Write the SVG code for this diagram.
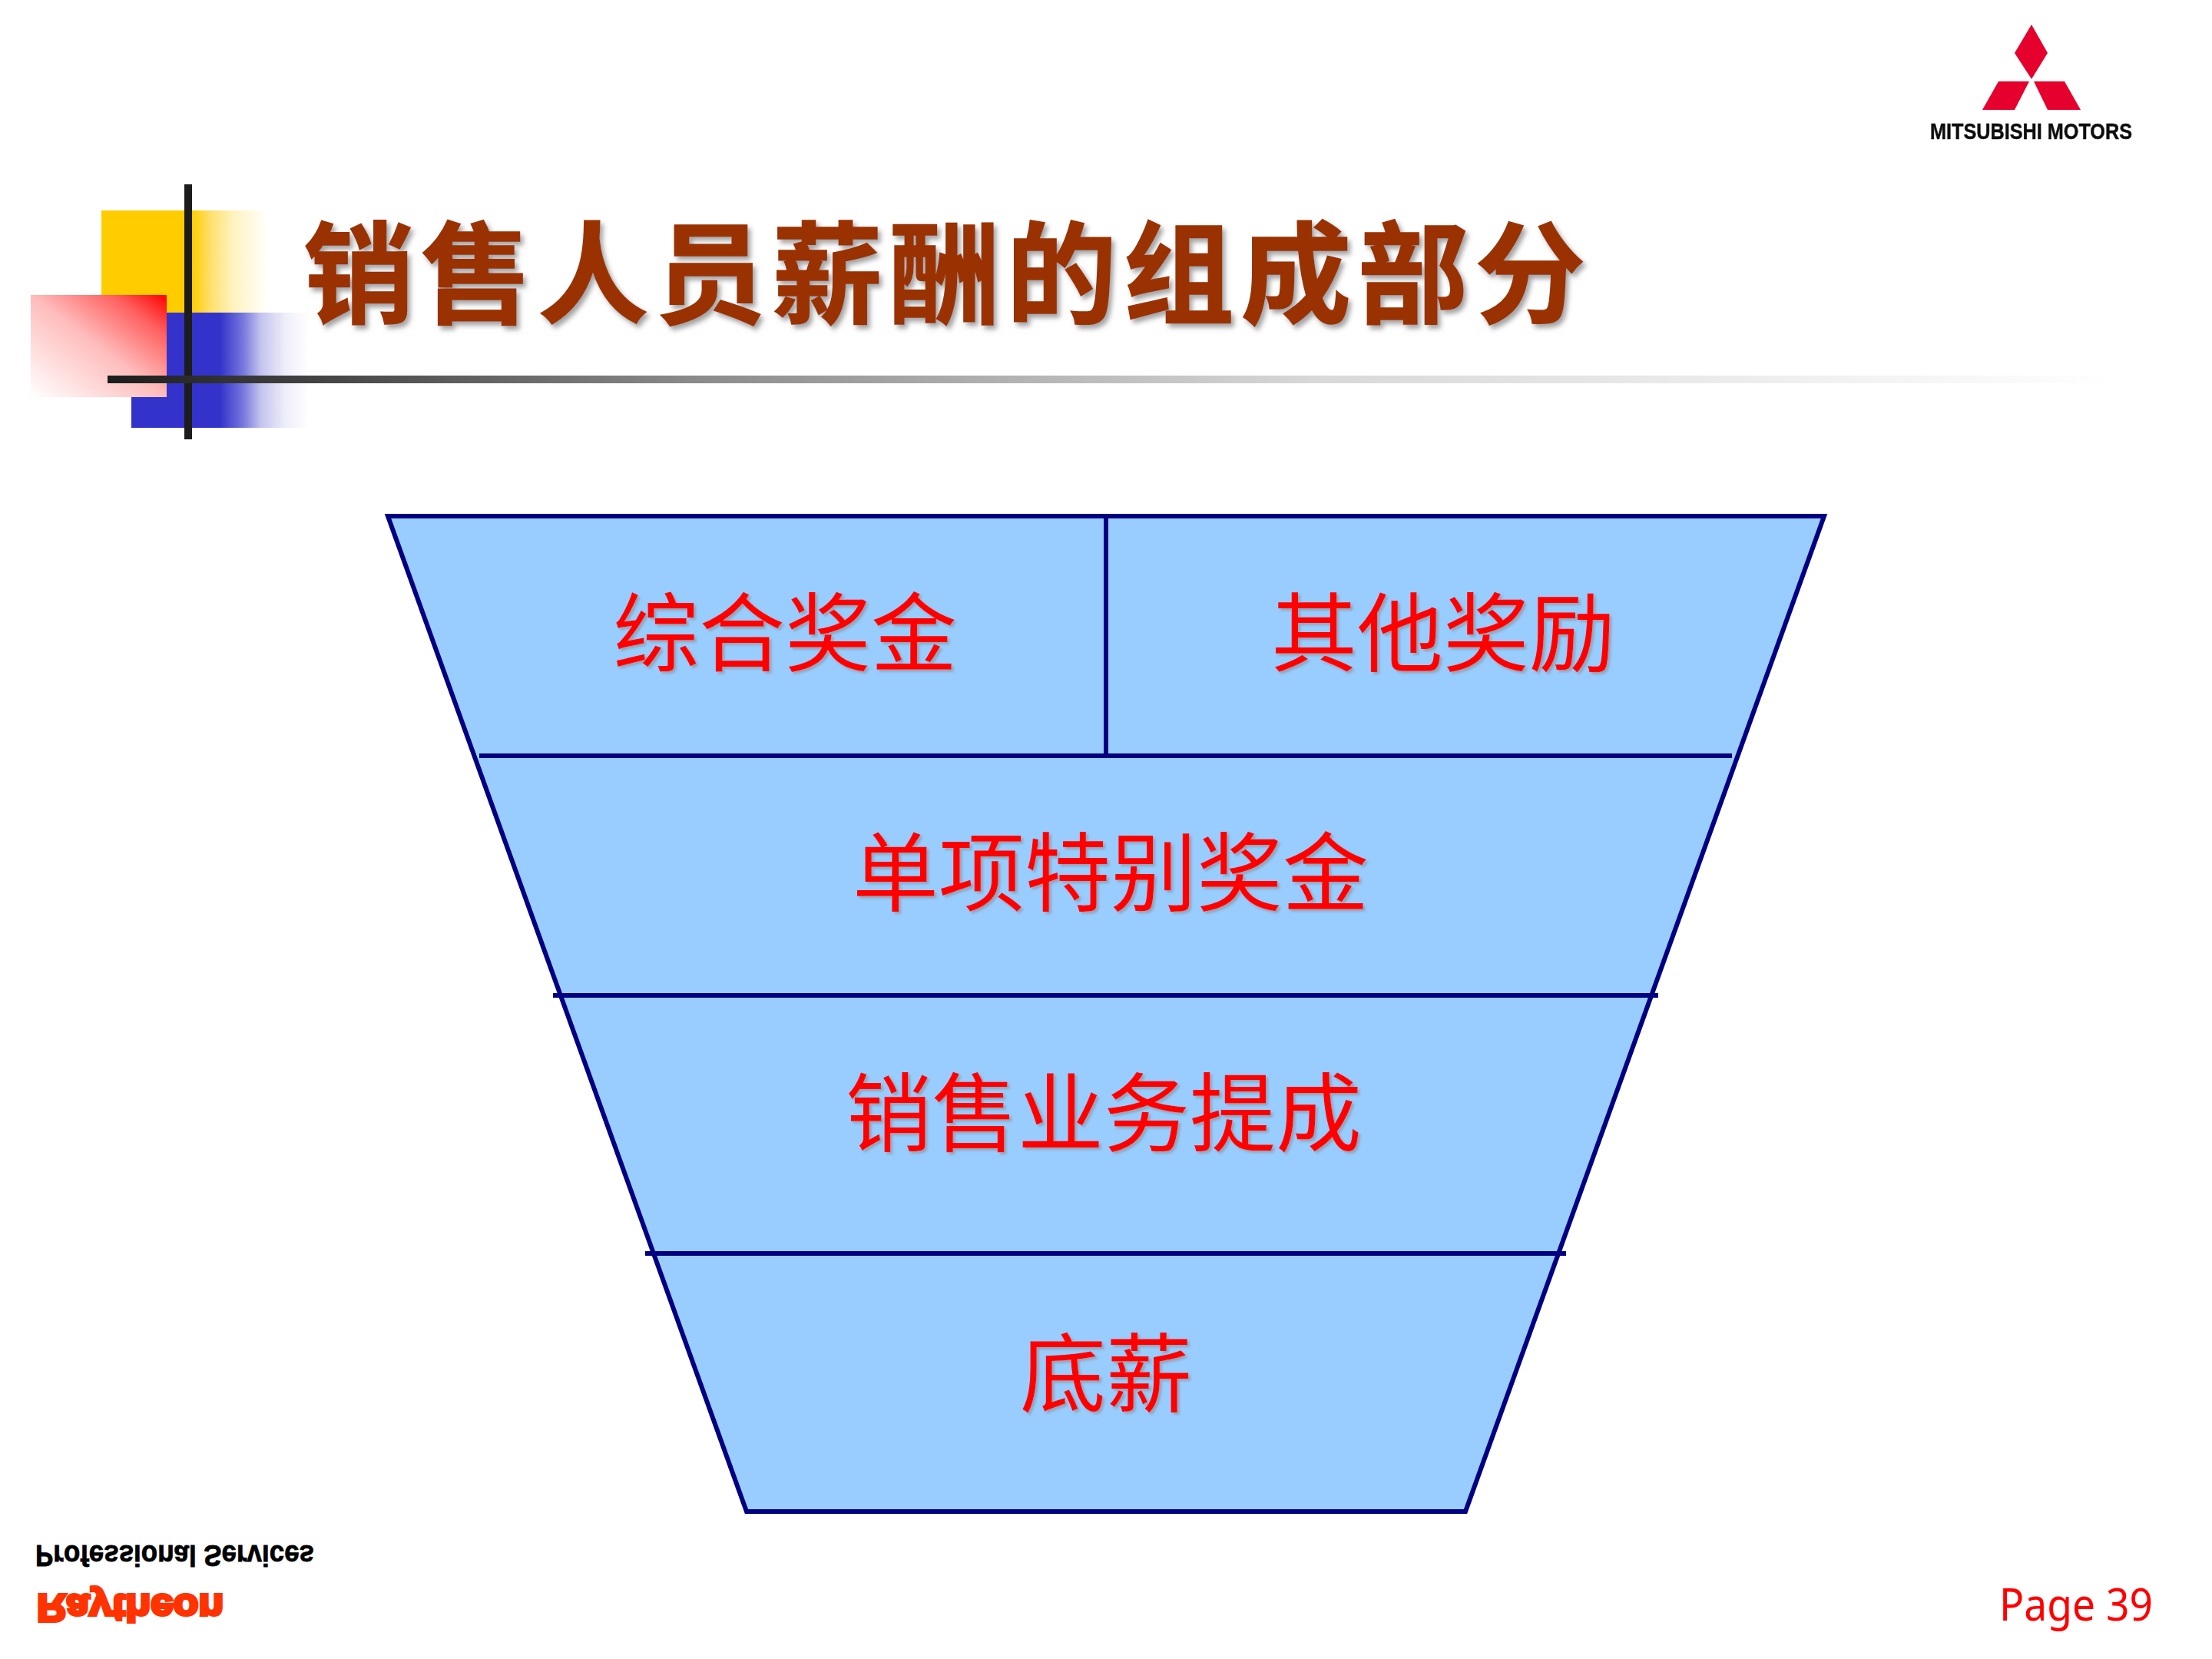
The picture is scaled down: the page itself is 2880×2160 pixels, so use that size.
<svg xmlns="http://www.w3.org/2000/svg" width="2880" height="2160" viewBox="0 0 2880 2160">
<style>
.cjk{font-family:"Noto Sans CJK SC","Noto Sans",sans-serif;text-anchor:middle}
.lab{font-size:112px;fill:#ff0000;filter:url(#s1)}
.sep{stroke:#000080;stroke-width:6;fill:none}
.lat{font-family:"Liberation Sans",Arial,sans-serif;font-weight:700}
</style>
<defs>
<filter id="s1" x="-10%" y="-20%" width="120%" height="140%"><feDropShadow dx="3" dy="3" stdDeviation="1.5" flood-color="#888" flood-opacity=".55"/></filter>
<filter id="s2" x="-5%" y="-20%" width="110%" height="140%"><feDropShadow dx="4" dy="5" stdDeviation="3" flood-color="#666" flood-opacity=".6"/></filter>
<filter id="b"><feGaussianBlur stdDeviation=".7"/></filter>
<linearGradient id="gy" gradientUnits="userSpaceOnUse" x1="132" y1="0" x2="350" y2="0"><stop offset=".54" stop-color="#ffcc00"/><stop offset=".656" stop-color="#ffe070"/><stop offset=".79" stop-color="#fff3c0"/><stop offset="1" stop-color="#fff"/></linearGradient>
<linearGradient id="gb" gradientUnits="userSpaceOnUse" x1="171" y1="0" x2="402" y2="0"><stop offset=".5" stop-color="#3333cc"/><stop offset=".63" stop-color="#7777dd"/><stop offset=".73" stop-color="#c4c4ee"/><stop offset=".87" stop-color="#eeeefa"/><stop offset="1" stop-color="#fff"/></linearGradient>
<linearGradient id="gr" x1="1" y1="0" x2="0" y2="1"><stop offset="0" stop-color="#ff0000"/><stop offset=".2" stop-color="#ff6060"/><stop offset=".5" stop-color="#ffbcbc"/><stop offset="1" stop-color="#fff"/></linearGradient>
<linearGradient id="gk" gradientUnits="userSpaceOnUse" x1="140" y1="0" x2="2760" y2="0"><stop offset="0" stop-color="#1c1c1c"/><stop offset=".29" stop-color="#8a8a8a"/><stop offset=".6" stop-color="#d8d8d8"/><stop offset="1" stop-color="#fff"/></linearGradient>
</defs>
<rect width="2880" height="2160" fill="#fff"/>
<g id="decor">
<rect x="132" y="274" width="218" height="133" fill="url(#gy)"/>
<rect x="171" y="407" width="231" height="150" fill="url(#gb)"/>
<rect x="40" y="384" width="177" height="133" fill="url(#gr)"/>
<rect x="240" y="240" width="10" height="332" fill="#1c1c1c"/>
<rect x="140" y="489" width="2620" height="10" fill="url(#gk)"/>
</g>
<g id="logo-mitsubishi">
<g fill="#e6002d">
<polygon points="2645,32 2666,69 2645,103 2623,69"/>
<polygon points="2602,106 2642,106 2623,143 2581,143"/>
<polygon points="2648,106 2688,106 2709,143 2666,143"/>
</g>
<text class="lat" x="2513" y="181" font-size="30" fill="#111" stroke="#111" stroke-width=".5" textLength="263" lengthAdjust="spacingAndGlyphs" filter="url(#b)">MITSUBISHI MOTORS</text>
</g>
<g id="title"><text class="cjk" x="1234" y="410" font-size="144" font-weight="700" letter-spacing="8.5" fill="#993300" stroke="#993300" stroke-width="1.5" filter="url(#s2)">销售人员薪酬的组成部分</text></g>
<g id="funnel"><polygon points="505,672 2375,672 1908,1968 972,1968" fill="#99ccff" stroke="#000080" stroke-width="6"/></g>
<g id="connectors">
<line class="sep" x1="1440" y1="672" x2="1440" y2="984"/>
<line class="sep" x1="624" y1="984" x2="2255" y2="984"/>
<line class="sep" x1="720" y1="1296" x2="2159" y2="1296"/>
<line class="sep" x1="840" y1="1632" x2="2039" y2="1632"/>
</g>
<g id="node-zonghe"><text class="cjk lab" x="1022" y="866">综合奖金</text></g>
<g id="node-qita"><text class="cjk lab" x="1879" y="866">其他奖励</text></g>
<g id="node-danxiang"><text class="cjk lab" x="1446" y="1178">单项特别奖金</text></g>
<g id="node-xiaoshou"><text class="cjk lab" x="1437" y="1491">销售业务提成</text></g>
<g id="node-dixin"><text class="cjk lab" x="1440" y="1830">底薪</text></g>
<g id="logo-raytheon">
<text class="lat" transform="translate(46,2012) scale(1,-1)" font-size="38" fill="#000" stroke="#000" stroke-width=".8" textLength="363" lengthAdjust="spacingAndGlyphs">Professional Services</text>
<text class="lat" transform="translate(48,2076) scale(1,-1)" font-size="50" fill="#ff3300" stroke="#ff3300" stroke-width="4" textLength="243" lengthAdjust="spacingAndGlyphs">Raytheon</text>
</g>
<g id="page"><text x="2603" y="2110" font-family="'Noto Sans',sans-serif" font-size="59" fill="#ff0000" textLength="200" lengthAdjust="spacingAndGlyphs">Page 39</text></g>
</svg>
